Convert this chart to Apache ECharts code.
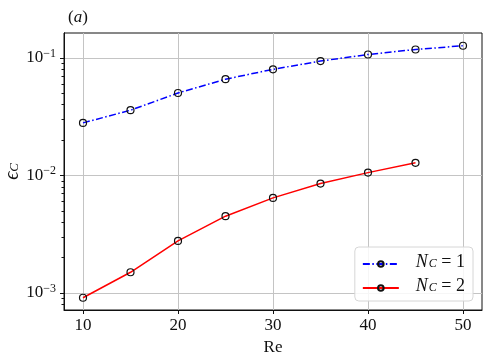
<!DOCTYPE html>
<html lang="en">
<head>
    <meta charset="utf-8">
    <title>eps_C vs Re</title>
    <script src="https://cdn.jsdelivr.net/npm/echarts@6/dist/echarts.min.js"></script>
    <style type="text/css">
        html, body { margin: 0; padding: 0; background: #fff; }
        #main { width: 489px; height: 360px; }
    </style>
</head>
<body>
<div id="main"></div>
<script type="text/javascript">
    // values
    const re1 = [10, 15, 20, 25, 30, 35, 40, 45, 50];
    const eps1 = [0.028, 0.0359, 0.0503, 0.0659, 0.080, 0.094, 0.107, 0.118, 0.127];
    const re2 = [10, 15, 20, 25, 30, 35, 40, 45];
    const eps2 = [0.00091, 0.0015, 0.00277, 0.0045, 0.00644, 0.00853, 0.01057, 0.0128];
    const xTicks = [10, 20, 30, 40, 50];
    const yTicks = [1e-3, 1e-2, 1e-1];
    const yMinor = [];
    [1e-4, 1e-3, 1e-2, 1e-1].forEach(function (d) {
        for (let k = 2; k <= 9; k++) yMinor.push(d * k);
    });

    const FONT = "'Liberation Serif', 'DejaVu Serif', serif";
    const GRIDC = '#c4c4c4';
    const YMIN = 7.16e-4, YMAX = 0.163;

    const chart = echarts.init(document.getElementById('main'));

    function pairs(xs, ys) {
        return xs.map(function (x, i) { return [x, ys[i]]; });
    }

    chart.setOption({
        animation: false,
        title: {
            text: '{p|(}{a|a}{p|)}',
            left: 63, top: 4,
            textStyle: {
                fontWeight: 'normal',
                rich: {
                    p: {fontFamily: FONT, fontSize: 17, fontWeight: 'normal', color: '#111'},
                    a: {fontFamily: FONT, fontSize: 17, fontWeight: 'normal', fontStyle: 'italic', color: '#111'}
                }
            }
        },
        grid: {
            left: 64, right: 7, top: 33, bottom: 50,
            outerBoundsMode: 'none',
            containLabel: false,
            show: true, borderColor: '#111', borderWidth: 1, backgroundColor: 'transparent'
        },
        legend: {
            orient: 'vertical',
            right: 16, bottom: 59,
            itemWidth: 36, itemHeight: 7, itemGap: 6,
            padding: [6, 8, 6, 7],
            backgroundColor: 'rgba(255,255,255,0.85)',
            borderColor: '#d6d6d6', borderWidth: 1, borderRadius: 4,
            formatter: function (name) {
                return '{i|N}{s|C}{t| = ' + name.slice(-1) + '}';
            },
            textStyle: {
                padding: [0, 0, 0, 12],
                rich: {
                    i: {fontFamily: FONT, fontSize: 18, fontStyle: 'italic', color: '#111', padding: [0, 0, 4, 0]},
                    s: {fontFamily: FONT, fontSize: 12, fontStyle: 'italic', color: '#111', padding: [0, 0, 0, 1]},
                    t: {fontFamily: FONT, fontSize: 18, color: '#111', padding: [0, 0, 4, 0]}
                }
            },
            data: ['N_C = 1', 'N_C = 2']
        },
        xAxis: {
            type: 'value',
            min: 8, max: 52,
            name: 'Re',
            nameLocation: 'middle',
            nameGap: 29,
            nameMoveOverlap: false,
            nameTextStyle: {fontFamily: FONT, fontSize: 17, color: '#111'},
            axisLine: {show: true, lineStyle: {color: '#111', width: 1}},
            axisTick: {show: true, length: 4, inside: false, customValues: xTicks, lineStyle: {color: '#111'}},
            axisLabel: {
                customValues: xTicks, margin: 7,
                fontFamily: FONT, fontSize: 17, color: '#111'
            },
            splitLine: {show: true, lineStyle: {color: GRIDC, width: 1}}
        },
        yAxis: [{
            type: 'log',
            logBase: 10,
            min: YMIN, max: YMAX,
            name: '{e|ϵ}{s|C}',
            nameLocation: 'middle',
            nameGap: 37,
            nameMoveOverlap: false,
            nameRotate: 90,
            nameTextStyle: {
                rich: {
                    e: {fontFamily: FONT, fontSize: 20, fontStyle: 'italic', color: '#111', padding: [0, 0, 4, 0]},
                    s: {fontFamily: FONT, fontSize: 13, fontStyle: 'italic', color: '#111'}
                }
            },
            axisLine: {show: true, lineStyle: {color: '#111', width: 1}},
            axisTick: {show: true, length: 4, customValues: yTicks, lineStyle: {color: '#111'}},
            axisLabel: {
                customValues: yTicks, margin: 8,
                formatter: function (v) {
                    const e = (v > 0 && v < 1) ? Math.round(Math.log10(v)) : Math.round(v);
                    return '{b|10}{p|' + String(e).replace('-', '\u2212') + '}';
                },
                rich: {
                    b: {fontFamily: FONT, fontSize: 17, color: '#111'},
                    p: {fontFamily: FONT, fontSize: 12, color: '#111', padding: [0, 0, 9, 0]}
                }
            },
            splitLine: {show: true, lineStyle: {color: GRIDC, width: 1}}
        }, {
            // minor ticks only
            type: 'log',
            logBase: 10,
            min: YMIN, max: YMAX,
            position: 'left',
            axisLine: {show: true, lineStyle: {color: '#111', width: 1}},
            axisTick: {show: true, length: 2.5, customValues: yMinor, lineStyle: {color: '#111', width: 1}},
            axisLabel: {show: false},
            splitLine: {show: false}
        }],
        series: [{
            name: 'N_C = 1',
            type: 'line',
            data: pairs(re1, eps1),
            symbol: 'circle',
            symbolSize: 7,
            itemStyle: {color: 'rgba(255,255,255,0)', borderColor: '#111', borderWidth: 1.2},
            lineStyle: {color: '#0000ff', width: 1.5, type: [7, 2.5, 1.5, 2.5]},
            z: 3
        }, {
            name: 'N_C = 2',
            type: 'line',
            data: pairs(re2, eps2),
            symbol: 'circle',
            symbolSize: 7,
            itemStyle: {color: 'rgba(255,255,255,0)', borderColor: '#111', borderWidth: 1.2},
            lineStyle: {color: '#ff0000', width: 1.5, type: 'solid'},
            z: 3
        }]
    });
</script>
</body>
</html>
